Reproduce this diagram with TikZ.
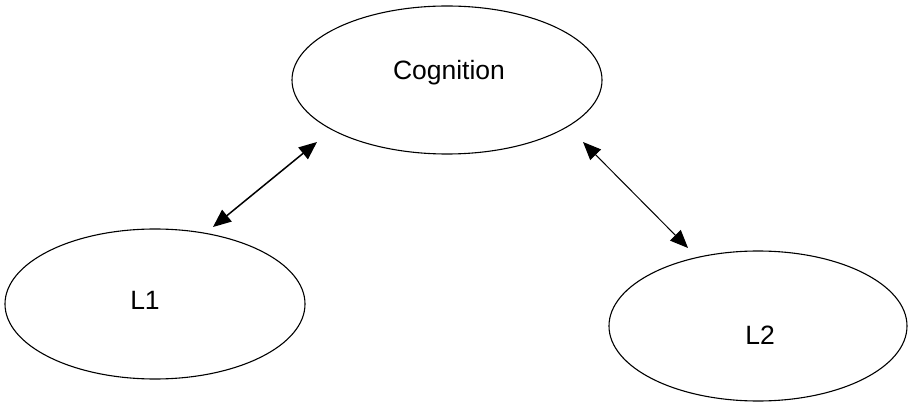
\documentclass[tikz,border=0pt]{standalone}
\usepackage{fontspec}
\setmainfont{Liberation Sans}
\usetikzlibrary{shapes.geometric,arrows.meta}
\begin{document}
\begin{tikzpicture}[x=1pt,y=-1pt,
  bubble/.style={draw=black,ellipse,line width=1.1pt,inner sep=0pt},
  lbl/.style={font=\fontsize{26.5}{31}\selectfont,inner sep=0pt},
  link/.style={draw=black,{Triangle[length=18pt,width=15pt]}-{Triangle[length=18pt,width=15pt]}}]
\useasboundingbox (0,0) rectangle (910,403);
\node[bubble,minimum width=310pt,minimum height=148pt] (cog) at (447,80) {};
\node[bubble,minimum width=300pt,minimum height=150pt] (l1) at (155,304) {};
\node[bubble,minimum width=298pt,minimum height=150pt] (l2) at (758,326) {};
\node[lbl] (cogt) at (449,73) {Cognition};
\node[lbl] (l1t) at (145,300) {L1};
\node[lbl] (l2t) at (760,335) {L2};
\coordinate (a1) at (213,227);
\coordinate (a2) at (317,142);
\coordinate (b1) at (583,142);
\coordinate (b2) at (688,248);
\draw[link,line width=1.5pt] (a1) -- (a2);
\draw[link,line width=1pt] (b1) -- (b2);
\end{tikzpicture}
\end{document}
